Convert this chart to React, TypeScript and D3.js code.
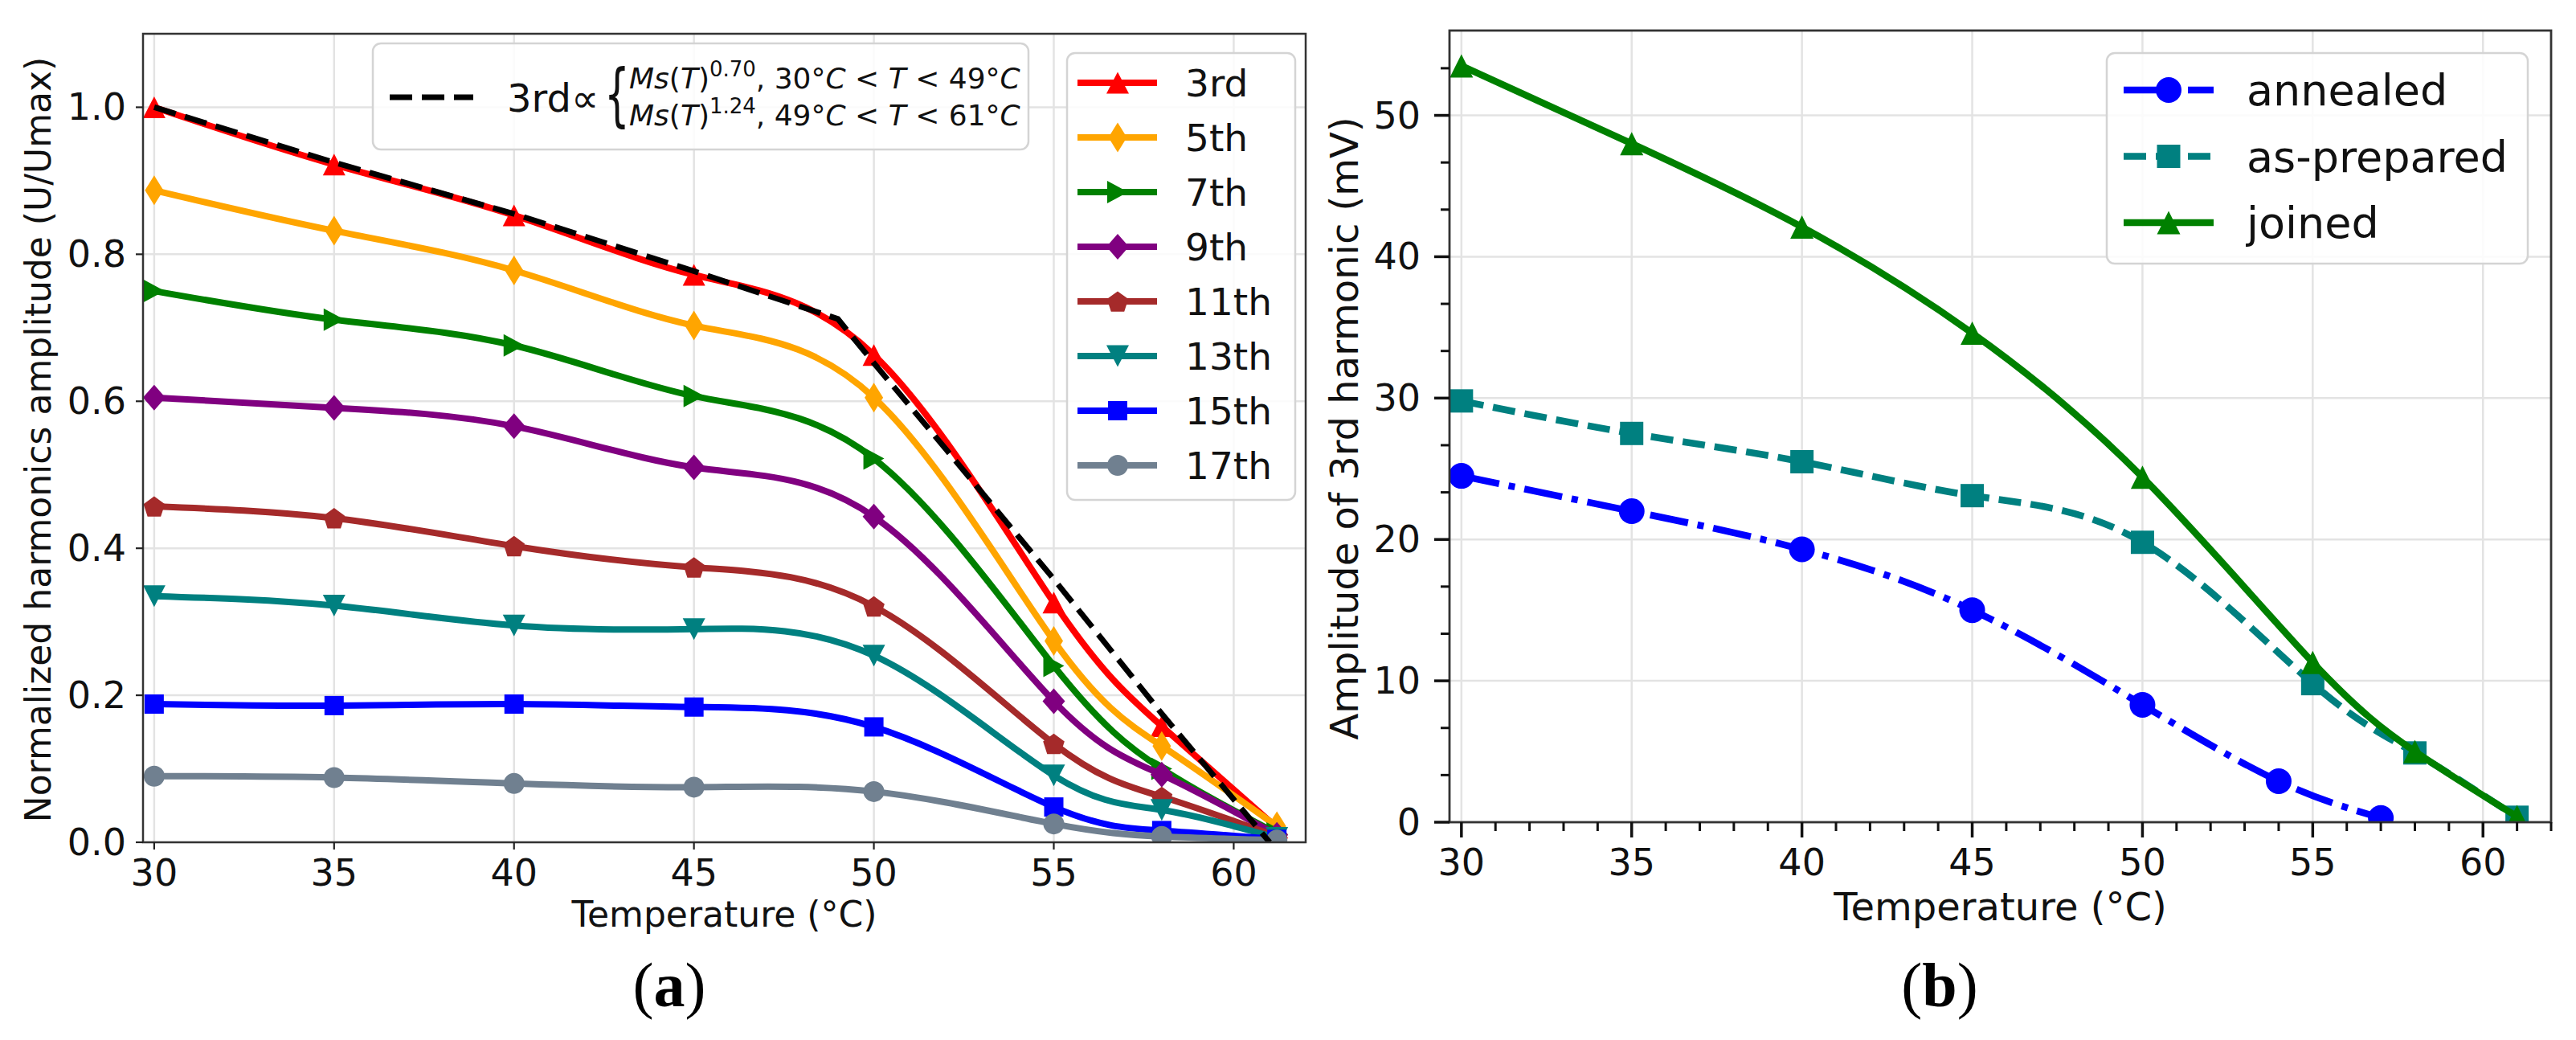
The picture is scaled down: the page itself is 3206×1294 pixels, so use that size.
import React from "react";
import * as d3 from "d3";

// ---------------- Panel (a) data ----------------
const tempsA = [30, 35, 40, 45, 50, 55, 58, 61.2];
const harm3rd = [1.0, 0.922, 0.853, 0.772, 0.663, 0.326, 0.158, 0.02];
const harm5th = [0.887, 0.832, 0.778, 0.703, 0.605, 0.274, 0.131, 0.022];
const harm7th = [0.75, 0.711, 0.676, 0.607, 0.522, 0.24, 0.1, 0.012];
const harm9th = [0.605, 0.591, 0.566, 0.51, 0.443, 0.192, 0.092, 0.01];
const harm11th = [0.457, 0.441, 0.403, 0.374, 0.321, 0.134, 0.062, 0.008];
const harm13th = [0.335, 0.322, 0.295, 0.29, 0.254, 0.091, 0.044, 0.006];
const harm15th = [0.188, 0.186, 0.188, 0.184, 0.157, 0.048, 0.016, 0.004];
const harm17th = [0.09, 0.088, 0.08, 0.075, 0.069, 0.025, 0.008, 0.003];
const fitTemps = [30, 35, 40, 45, 49, 50, 52, 55, 58, 61];
const fitValues = [1.0, 0.925, 0.855, 0.777, 0.712, 0.652, 0.535, 0.358, 0.175, 0.0];
const xTicksA = [30, 35, 40, 45, 50, 55, 60];
const yTicksA = [0, 0.2, 0.4, 0.6, 0.8, 1.0];

// ---------------- Panel (b) data ----------------
const tempsB = [30, 35, 40, 45, 50, 55, 58, 61];
const joined = [53.5, 48.0, 42.1, 34.6, 24.4, 11.3, 5.0, 0.4];
const asPrepared = [29.8, 27.5, 25.5, 23.1, 19.8, 9.8, 4.9, 0.35];
const tempsAnnealed = [30, 35, 40, 45, 50, 54, 57];
const annealed = [24.5, 22.0, 19.3, 15.0, 8.3, 2.9, 0.3];
const xTicksB = [30, 35, 40, 45, 50, 55, 60];
const yTicksB = [0, 10, 20, 30, 40, 50];

const FONT = "'DejaVu Sans', 'Liberation Sans', sans-serif";
const SERIF = "'Liberation Serif', 'DejaVu Serif', serif";
const GRID = "#e3e3e3";
const SPINE = "#333333";

type Shape = "tri-up" | "tri-down" | "tri-right" | "diamond" | "square" | "pentagon" | "circle";

function markerPath(shape: Shape, w: number, h: number): string {
  const hw = w / 2;
  const hh = h / 2;
  switch (shape) {
    case "tri-up":
      return `M0,${-hh}L${hw},${hh}L${-hw},${hh}Z`;
    case "tri-down":
      return `M0,${hh}L${hw},${-hh}L${-hw},${-hh}Z`;
    case "tri-right":
      return `M${hw},0L${-hw},${hh}L${-hw},${-hh}Z`;
    case "diamond":
      return `M0,${-hh}L${hw},0L0,${hh}L${-hw},0Z`;
    case "square":
      return `M${-hw},${-hh}H${hw}V${hh}H${-hw}Z`;
    case "pentagon": {
      const pts = d3.range(5).map((k) => {
        const a = ((-90 + 72 * k) * Math.PI) / 180;
        return `${hw * Math.cos(a)},${hw * Math.sin(a) + hw * 0.1}`;
      });
      return `M${pts.join("L")}Z`;
    }
    case "circle":
    default:
      return `M${hw},0A${hw},${hw} 0 1,1 ${-hw},0A${hw},${hw} 0 1,1 ${hw},0Z`;
  }
}

interface SeriesStyle {
  label: string;
  color: string;
  shape: Shape;
  w: number;
  h: number;
  dash?: string;
}

const seriesA: { values: number[]; style: SeriesStyle }[] = [
  { values: harm3rd, style: { label: "3rd", color: "#ff0000", shape: "tri-up", w: 28, h: 27 } },
  { values: harm5th, style: { label: "5th", color: "#ffa500", shape: "diamond", w: 23, h: 37 } },
  { values: harm7th, style: { label: "7th", color: "#008000", shape: "tri-right", w: 26, h: 28 } },
  { values: harm9th, style: { label: "9th", color: "#800080", shape: "diamond", w: 28, h: 32 } },
  { values: harm11th, style: { label: "11th", color: "#a52a2a", shape: "pentagon", w: 28, h: 28 } },
  { values: harm13th, style: { label: "13th", color: "#008080", shape: "tri-down", w: 28, h: 27 } },
  { values: harm15th, style: { label: "15th", color: "#0000ff", shape: "square", w: 24, h: 24 } },
  { values: harm17th, style: { label: "17th", color: "#708090", shape: "circle", w: 26, h: 26 } },
];

const seriesB: { temps: number[]; values: number[]; style: SeriesStyle }[] = [
  { temps: tempsAnnealed, values: annealed, style: { label: "annealed", color: "#0000ff", shape: "circle", w: 32, h: 32, dash: "48 12 8 12" } },
  { temps: tempsB, values: asPrepared, style: { label: "as-prepared", color: "#008080", shape: "square", w: 29, h: 29, dash: "28 12" } },
  { temps: tempsB, values: joined, style: { label: "joined", color: "#008000", shape: "tri-up", w: 29, h: 29 } },
];

function PanelA() {
  const box = { left: 178, right: 1625, top: 42, bottom: 1048 };
  const x = d3.scaleLinear().domain([29.69, 62.0]).range([box.left, box.right]);
  const y = d3.scaleLinear().domain([0, 1.1]).range([box.bottom, box.top]);
  const mkLine = (temps: number[], curve: d3.CurveFactory) =>
    d3
      .line<number>()
      .x((_, i) => x(temps[i]))
      .y((d) => y(d))
      .curve(curve);
  const fmt = d3.format(".1f");
  const lw = 8;

  return (
    <g>
      <defs>
        <clipPath id="clipA">
          <rect x={box.left} y={box.top} width={box.right - box.left} height={box.bottom - box.top} />
        </clipPath>
      </defs>
      {/* grid */}
      {xTicksA.map((t) => (
        <line key={"gx" + t} x1={x(t)} x2={x(t)} y1={box.top} y2={box.bottom} stroke={GRID} strokeWidth={2.5} />
      ))}
      {yTicksA.map((t) => (
        <line key={"gy" + t} x1={box.left} x2={box.right} y1={y(t)} y2={y(t)} stroke={GRID} strokeWidth={2.5} />
      ))}
      {/* series */}
      <g clipPath="url(#clipA)">
        {seriesA.map((s) => (
          <g key={s.style.label}>
            <path d={mkLine(tempsA, d3.curveNatural)(s.values) || ""} fill="none" stroke={s.style.color} strokeWidth={lw} />
            {s.values.map((v, i) => (
              <path
                key={i}
                d={markerPath(s.style.shape, s.style.w, s.style.h)}
                transform={`translate(${x(tempsA[i])},${y(v)})`}
                fill={s.style.color}
              />
            ))}
          </g>
        ))}
        <path
          d={mkLine(fitTemps, d3.curveLinear)(fitValues) || ""}
          fill="none"
          stroke="#000"
          strokeWidth={7}
          strokeDasharray="28 12"
        />
      </g>
      {/* spines */}
      <rect x={box.left} y={box.top} width={box.right - box.left} height={box.bottom - box.top} fill="none" stroke={SPINE} strokeWidth={2.5} />
      {/* ticks */}
      {xTicksA.map((t) => (
        <g key={"tx" + t}>
          <line x1={x(t)} x2={x(t)} y1={box.bottom} y2={box.bottom + 9} stroke="#222" strokeWidth={2.2} />
          <text x={x(t)} y={1102} fontSize={46} fontFamily={FONT} textAnchor="middle" fill="#111">
            {t}
          </text>
        </g>
      ))}
      {yTicksA.map((t) => (
        <g key={"ty" + t}>
          <line x1={box.left - 9} x2={box.left} y1={y(t)} y2={y(t)} stroke="#222" strokeWidth={2.2} />
          <text x={157} y={y(t) + 16} fontSize={46} fontFamily={FONT} textAnchor="end" fill="#111">
            {fmt(t)}
          </text>
        </g>
      ))}
      {/* axis labels */}
      <text x={(box.left + box.right) / 2} y={1153} fontSize={44} fontFamily={FONT} textAnchor="middle" fill="#111">
        Temperature (°C)
      </text>
      <text transform={`translate(63,547) rotate(-90)`} fontSize={44} fontFamily={FONT} textAnchor="middle" fill="#111">
        Normalized harmonics amplitude (U/Umax)
      </text>

      {/* legend 1: fit */}
      <rect x={464} y={54} width={816} height={132} rx={10} fill="#fff" fillOpacity={0.85} stroke="#d4d4d4" strokeWidth={2.5} />
      <line x1={485} x2={589} y1={121} y2={121} stroke="#000" strokeWidth={7} strokeDasharray="28 12" />
      <text x={631} y={139} fontSize={48} fontFamily={FONT} fill="#111">
        3rd∝
      </text>
      <text transform="translate(752,147) scale(1,1.7)" fontSize={50} fontFamily={FONT} fill="#111">
        {"{"}
      </text>
      <text x={783} y={110} fontSize={36} fontFamily={FONT} fill="#111">
        <tspan fontStyle="italic">Ms</tspan>(<tspan fontStyle="italic">T</tspan>)
        <tspan fontSize={26} dy={-15}>0.70</tspan>
        <tspan dy={15}>, 30°</tspan>
        <tspan fontStyle="italic">C</tspan> &lt; <tspan fontStyle="italic">T</tspan> &lt; 49°
        <tspan fontStyle="italic">C</tspan>
      </text>
      <text x={783} y={156} fontSize={36} fontFamily={FONT} fill="#111">
        <tspan fontStyle="italic">Ms</tspan>(<tspan fontStyle="italic">T</tspan>)
        <tspan fontSize={26} dy={-15}>1.24</tspan>
        <tspan dy={15}>, 49°</tspan>
        <tspan fontStyle="italic">C</tspan> &lt; <tspan fontStyle="italic">T</tspan> &lt; 61°
        <tspan fontStyle="italic">C</tspan>
      </text>

      {/* legend 2: harmonics */}
      <rect x={1328} y={66} width={284} height={556} rx={10} fill="#fff" fillOpacity={0.85} stroke="#d4d4d4" strokeWidth={2.5} />
      {seriesA.map((s, i) => {
        const cy = 103 + i * 68;
        return (
          <g key={"lg" + s.style.label}>
            <line x1={1341} x2={1440} y1={cy} y2={cy} stroke={s.style.color} strokeWidth={lw} />
            <path d={markerPath(s.style.shape, s.style.w, s.style.h)} transform={`translate(1391,${cy})`} fill={s.style.color} />
            <text x={1475} y={cy + 17} fontSize={47} fontFamily={FONT} fill="#111">
              {s.style.label}
            </text>
          </g>
        );
      })}

      {/* panel tag */}
      <text x={833} y={1252} fontSize={78} fontFamily={SERIF} textAnchor="middle" fill="#000">
        (<tspan fontWeight="bold">a</tspan>)
      </text>
    </g>
  );
}

function PanelB() {
  const box = { left: 1804, right: 3175, top: 38, bottom: 1023 };
  const x = d3.scaleLinear().domain([29.65, 62.0]).range([box.left, box.right]);
  const y = d3.scaleLinear().domain([0, 56]).range([box.bottom, box.top]);
  const lw = 8.5;
  const minorX = d3.range(31, 63).filter((t) => t % 5 !== 0);
  const minorY = d3.range(0, 56, 10 / 3).filter((v) => Math.abs(v / 10 - Math.round(v / 10)) > 0.01);

  return (
    <g>
      <defs>
        <clipPath id="clipB">
          <rect x={box.left} y={box.top} width={box.right - box.left} height={box.bottom - box.top} />
        </clipPath>
      </defs>
      {xTicksB.map((t) => (
        <line key={"gx" + t} x1={x(t)} x2={x(t)} y1={box.top} y2={box.bottom} stroke={GRID} strokeWidth={2.5} />
      ))}
      {yTicksB.map((t) => (
        <line key={"gy" + t} x1={box.left} x2={box.right} y1={y(t)} y2={y(t)} stroke={GRID} strokeWidth={2.5} />
      ))}
      <g clipPath="url(#clipB)">
        {seriesB.map((s) => {
          const gen = d3
            .line<number>()
            .x((_, i) => x(s.temps[i]))
            .y((d) => y(d))
            .curve(d3.curveNatural);
          return (
            <g key={s.style.label}>
              <path d={gen(s.values) || ""} fill="none" stroke={s.style.color} strokeWidth={lw} strokeDasharray={s.style.dash} />
              {s.values.map((v, i) => (
                <path
                  key={i}
                  d={markerPath(s.style.shape, s.style.w, s.style.h)}
                  transform={`translate(${x(s.temps[i])},${y(v)})`}
                  fill={s.style.color}
                />
              ))}
            </g>
          );
        })}
      </g>
      <rect x={box.left} y={box.top} width={box.right - box.left} height={box.bottom - box.top} fill="none" stroke={SPINE} strokeWidth={2.8} />
      {/* minor ticks */}
      {minorX.map((t) => (
        <line key={"mx" + t} x1={x(t)} x2={x(t)} y1={box.bottom} y2={box.bottom + 11} stroke="#111" strokeWidth={3} />
      ))}
      {minorY.map((t, i) => (
        <line key={"my" + i} x1={box.left - 11} x2={box.left} y1={y(t)} y2={y(t)} stroke="#111" strokeWidth={3} />
      ))}
      {/* major ticks */}
      {xTicksB.map((t) => (
        <g key={"tx" + t}>
          <line x1={x(t)} x2={x(t)} y1={box.bottom} y2={box.bottom + 19} stroke="#111" strokeWidth={3.5} />
          <text x={x(t)} y={1089} fontSize={46} fontFamily={FONT} textAnchor="middle" fill="#111">
            {t}
          </text>
        </g>
      ))}
      {yTicksB.map((t) => (
        <g key={"ty" + t}>
          <line x1={box.left - 19} x2={box.left} y1={y(t)} y2={y(t)} stroke="#111" strokeWidth={3.5} />
          <text x={1768} y={y(t) + 16} fontSize={46} fontFamily={FONT} textAnchor="end" fill="#111">
            {t}
          </text>
        </g>
      ))}
      <text x={(box.left + box.right) / 2} y={1145} fontSize={48} fontFamily={FONT} textAnchor="middle" fill="#111">
        Temperature (°C)
      </text>
      <text transform={`translate(1690,533) rotate(-90)`} fontSize={48} fontFamily={FONT} textAnchor="middle" fill="#111">
        Amplitude of 3rd harmonic (mV)
      </text>

      {/* legend */}
      <rect x={2622} y={66} width={524} height={262} rx={10} fill="#fff" fillOpacity={0.85} stroke="#d4d4d4" strokeWidth={2.5} />
      {seriesB.map((s, i) => {
        const cy = 112 + i * 82.5;
        return (
          <g key={"lg" + s.style.label}>
            <line x1={2643} x2={2755} y1={cy} y2={cy} stroke={s.style.color} strokeWidth={lw} strokeDasharray={s.style.dash} />
            <path d={markerPath(s.style.shape, s.style.w, s.style.h)} transform={`translate(2699,${cy})`} fill={s.style.color} />
            <text x={2796} y={cy + 19} fontSize={54} fontFamily={FONT} fill="#111">
              {s.style.label}
            </text>
          </g>
        );
      })}

      <text x={2414} y={1252} fontSize={78} fontFamily={SERIF} textAnchor="middle" fill="#000">
        (<tspan fontWeight="bold">b</tspan>)
      </text>
    </g>
  );
}

export default function App() {
  const W = 3206;
  const H = 1294;
  return (
    <svg
      width={W}
      height={H}
      viewBox={`0 0 ${W} ${H}`}
      style={{ position: "absolute", left: 0, top: 0, display: "block", background: "#fff" }}
      xmlns="http://www.w3.org/2000/svg"
    >
      <rect x={0} y={0} width={W} height={H} fill="#fff" />
      <PanelA />
      <PanelB />
    </svg>
  );
}
